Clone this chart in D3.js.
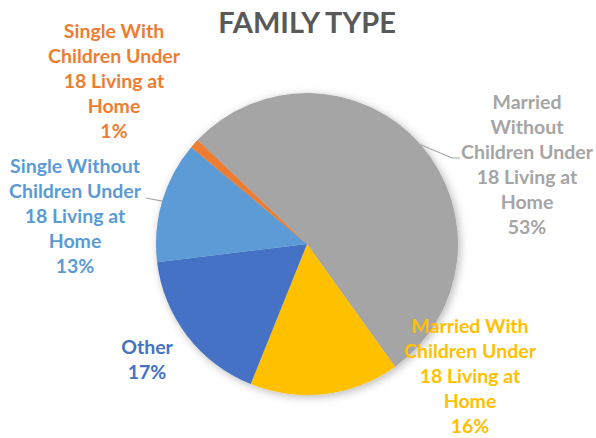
<!DOCTYPE html>
<html>
<head>
<meta charset="utf-8">
<script src="https://cdn.jsdelivr.net/npm/d3@7"></script>
<style>
  html, body { margin: 0; padding: 0; background: #ffffff; }
  svg { display: block; }
  text { font-family: Lato, "Open Sans", sans-serif; font-weight: 700; }
</style>
</head>
<body>
<svg id="chart" width="596" height="438"></svg>
<script>
// Family type breakdown (percent of households)
const categories = [
  "Married Without Children Under 18 Living at Home",
  "Married With Children Under 18 Living at Home",
  "Other",
  "Single Without Children Under 18 Living at Home",
  "Single With Children Under 18 Living at Home"
];
const values = [53, 16, 17, 13, 1];
const labelLines = [
  ["Married", "Without", "Children Under", "18 Living at", "Home"],
  ["Married With", "Children Under", "18 Living at", "Home"],
  ["Other"],
  ["Single Without", "Children Under", "18 Living at", "Home"],
  ["Single With", "Children Under", "18 Living at", "Home"]
];
const colors = ["#A5A5A5", "#FFC000", "#4472C4", "#5B9BD5", "#ED7D31"];

// Layout
const width = 596, height = 438;
const cx = 307, cy = 244, radius = 151;
const firstSliceAngle = -46.5; // degrees, clockwise from 12 o'clock
const lineHeight = 25;
// label block centre (x) and first-line baseline (y), plus leader elbows
const labelLayout = [
  { x: 527, y: 109, leader: [[452, 158], [460, 158]] },
  { x: 470, y: 333, leader: null },
  { x: 147, y: 354, leader: null },
  { x: 75,  y: 173, leader: [[146, 198]] },
  { x: 114, y: 38,  leader: null }
];

const svg = d3.select("#chart");

// soft outer shadow round the pie
const defs = svg.append("defs");
const shadow = defs.append("filter").attr("id", "pieShadow")
  .attr("x", "-20%").attr("y", "-20%").attr("width", "140%").attr("height", "140%");
shadow.append("feDropShadow")
  .attr("dx", 2).attr("dy", 2).attr("stdDeviation", 4)
  .attr("flood-color", "#000").attr("flood-opacity", 0.28);

// title
svg.append("text")
  .attr("x", cx).attr("y", 33)
  .attr("text-anchor", "middle")
  .attr("fill", "#595959")
  .attr("font-size", 29)
  .text("FAMILY TYPE");

const start = firstSliceAngle * Math.PI / 180;
const pie = d3.pie().sort(null).value(d => d)
  .startAngle(start).endAngle(start + 2 * Math.PI);
const arcs = pie(values);
const arc = d3.arc().innerRadius(0).outerRadius(radius);

const g = svg.append("g").attr("transform", `translate(${cx},${cy})`);
g.append("g").attr("filter", "url(#pieShadow)")
  .selectAll("path").data(arcs).join("path")
  .attr("d", arc)
  .attr("fill", (d, i) => colors[i]);

// leader lines from slice edge (mid-angle) to the label
arcs.forEach((a, i) => {
  const lay = labelLayout[i];
  if (!lay.leader) return;
  const mid = (a.startAngle + a.endAngle) / 2;
  const pts = [[cx + radius * Math.sin(mid), cy - radius * Math.cos(mid)]].concat(lay.leader);
  svg.append("path")
    .attr("d", d3.line()(pts))
    .attr("fill", "none")
    .attr("stroke", "#A6A6A6")
    .attr("stroke-width", 1.2);
});

// data labels: category name lines + percentage
arcs.forEach((a, i) => {
  const lay = labelLayout[i];
  const lines = labelLines[i].concat([a.data + "%"]);
  const t = svg.append("text")
    .attr("text-anchor", "middle")
    .attr("fill", colors[i])
    .attr("font-size", 19.5);
  lines.forEach((ln, k) => {
    t.append("tspan")
      .attr("x", lay.x)
      .attr("y", lay.y + k * lineHeight)
      .text(ln);
  });
});
</script>
</body>
</html>
